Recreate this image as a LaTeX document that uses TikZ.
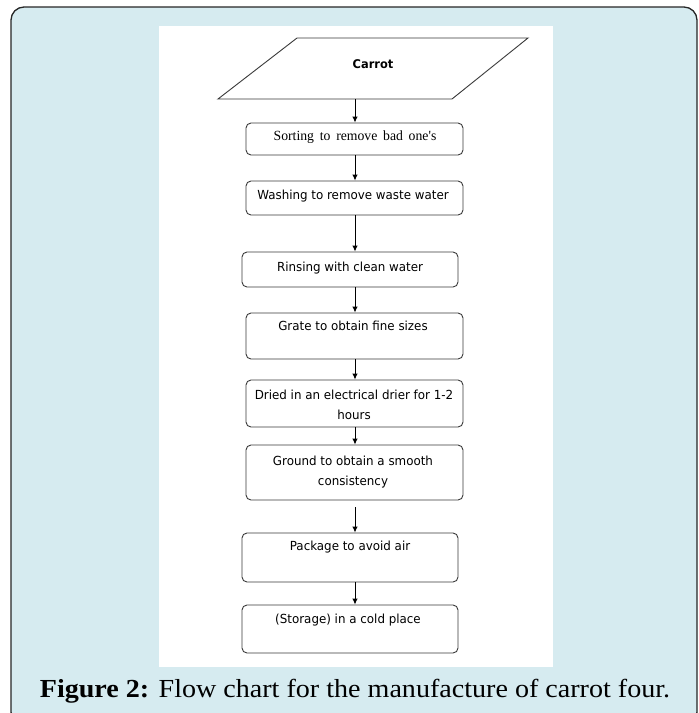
\documentclass[tikz,border=0pt]{standalone}
\usepackage{fontspec}
\setmainfont{Liberation Serif}
\newfontfamily\boxfont[FakeStretch=0.95]{DejaVu Sans}
\newfontfamily\sortfont[FakeStretch=0.98]{Liberation Serif}
\newfontfamily\capfont[FakeStretch=1.08]{Liberation Serif}
\definecolor{panelblue}{HTML}{D6EBF0}
\definecolor{boxline}{HTML}{3A3A3A}
\usetikzlibrary{arrows.meta}
\tikzset{
  stepbox/.style={draw=boxline, line width=0.9pt, rounded corners=5pt, fill=white, inner sep=0pt},
  boxtext/.style={font=\boxfont\fontsize{12.5}{20}\selectfont, align=center, inner sep=0pt, text=black},
  flow/.style={-{Latex[length=6pt,width=5.5pt]}, line width=0.9pt, black},
}
\begin{document}
\begin{tikzpicture}[x=1pt,y=-1pt]
\useasboundingbox (0,0) rectangle (699,713);
\begin{scope}
\clip (0,0) rectangle (699,713);
\draw[fill=panelblue, draw=black!85, line width=1.3pt, rounded corners=13pt] (11,7) rectangle (697,725);
\end{scope}
\fill[white] (159,26) rectangle (553,667);
% input parallelogram
\draw[line width=0.9pt, draw=boxline] (297,38) -- (528,38) -- (452,99) -- (218,99) -- cycle;
\node[font=\boxfont\bfseries\fontsize{12}{14}\selectfont, inner sep=0pt] (carrot) at (373,64) {Carrot};
\coordinate (carrotb) at (355,99);
% boxes
\node[stepbox, minimum width=217pt, minimum height=32pt] (b1) at (354.5,139) {};
\node[stepbox, minimum width=217pt, minimum height=34pt] (b2) at (354.5,198) {};
\node[stepbox, minimum width=216pt, minimum height=35pt] (b3) at (350,269.5) {};
\node[stepbox, minimum width=217pt, minimum height=46pt] (b4) at (354.5,336) {};
\node[stepbox, minimum width=217pt, minimum height=47pt] (b5) at (354.5,403.5) {};
\node[stepbox, minimum width=217pt, minimum height=55pt] (b6) at (354.5,472.5) {};
\node[stepbox, minimum width=216pt, minimum height=49pt] (b7) at (350,557.5) {};
\node[stepbox, minimum width=216pt, minimum height=48pt] (b8) at (350,629) {};
% texts
\node[font=\sortfont\fontsize{14}{16}\selectfont, inner sep=0pt] (t1) at (355,137) {Sorting\, to\, remove\, bad\, one's};
\node[boxtext] (t2) at (353,196) {Washing to remove waste water};
\node[boxtext] (t3) at (350,268) {Rinsing with clean water};
\node[boxtext] (t4) at (353,326) {Grate to obtain fine sizes};
\node[boxtext] (t5) at (354,405) {Dried in an electrical drier for 1-2\\hours};
\node[boxtext] (t6) at (353,472) {Ground to obtain a smooth\\consistency};
\node[boxtext] (t7) at (350,547) {Package to avoid air};
\node[boxtext] (t8) at (348,620) {(Storage) in a cold place};
% arrows
\draw[flow] (carrotb) -- (carrotb |- b1.north);
\draw[flow] (b1.south -| 355,0) -- (b2.north -| 355,0);
\draw[flow] (b2.south -| 355,0) -- (b3.north -| 355,0);
\draw[flow] (b3.south -| 355,0) -- (b4.north -| 355,0);
\draw[flow] (b4.south -| 355,0) -- (b5.north -| 355,0);
\draw[flow] (b5.south -| 355,0) -- (b6.north -| 355,0);
\draw[flow, shorten <=7pt] (b6.south -| 355,0) -- (b7.north -| 355,0);
\draw[flow] (b7.south -| 355,0) -- (b8.north -| 355,0);
% caption
\node[font=\capfont\fontsize{26}{30}\selectfont, inner sep=0pt, anchor=base] (cap) at (355,697) {\textbf{Figure 2:} Flow chart for the manufacture of carrot four.};
\end{tikzpicture}
\end{document}
